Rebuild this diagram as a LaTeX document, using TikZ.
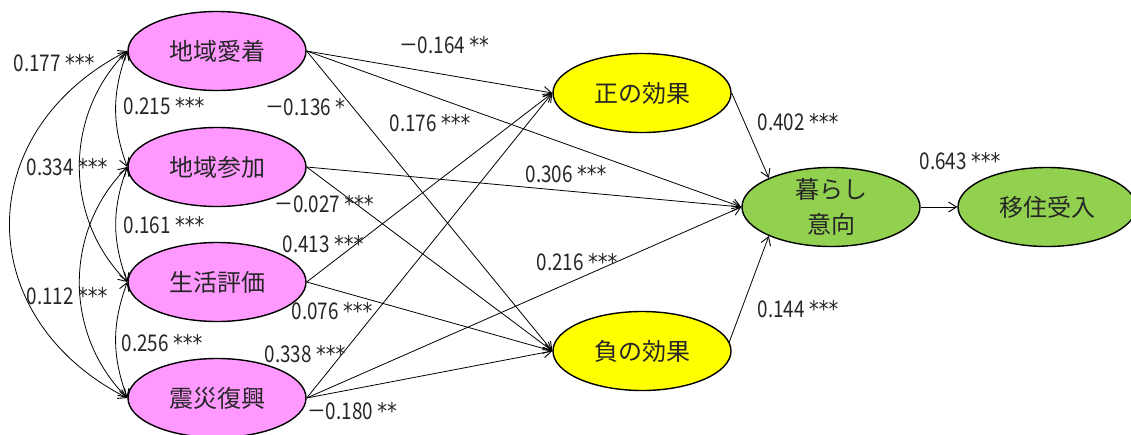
\documentclass[tikz,border=0pt]{standalone}
\usepackage{fontspec}
\usetikzlibrary{arrows.meta,shapes.geometric}
\newfontfamily\jpfont{Noto Sans CJK JP}
\newfontfamily\numfont[FakeStretch=0.82]{Noto Sans CJK JP}
\newfontfamily\starfont[FakeStretch=0.85]{DejaVu Sans}
\newcommand{\stx}[1]{{\starfont #1}}
\definecolor{pinkc}{HTML}{FF99FF}
\definecolor{yellowc}{HTML}{FFFF00}
\definecolor{greenc}{HTML}{92D050}
\definecolor{txt}{HTML}{262626}
\begin{document}
\begin{tikzpicture}[x=1pt,y=1pt,
  ell/.style={ellipse,draw=black,line width=1.4pt,minimum width=178pt,minimum height=79pt,inner sep=0pt,
    font=\jpfont\fontsize{24}{34}\selectfont,text=txt},
  arr/.style={line width=0.8pt,-{Straight Barb[length=8pt,width=10pt,line width=0.9pt]}},
  cov/.style={line width=0.8pt,{Straight Barb[length=8pt,width=10pt,line width=0.9pt]}-{Straight Barb[length=8pt,width=10pt,line width=0.9pt]}},
  lab/.style={font=\numfont\fontsize{23}{26}\selectfont,text=txt,inner sep=0pt}]
\useasboundingbox (0,0) rectangle (1131,-434);
% exogenous
\node[ell,fill=pinkc] (aichaku) at (217,-51) {地域愛着};
\node[ell,fill=pinkc] (sanka) at (217,-167) {地域参加};
\node[ell,fill=pinkc] (seikatsu) at (217,-282) {生活評価};
\node[ell,fill=pinkc] (shinsai) at (217,-398) {震災復興};
% mediators
\node[ell,fill=yellowc] (sei) at (642,-93) {正の効果};
\node[ell,fill=yellowc] (fu) at (642,-351) {負の効果};
% outcomes
\node[ell,fill=greenc,label={[font=\jpfont\fontsize{24}{35}\selectfont,text=txt,align=center,name=kurashitext]center:暮らし\\意向}] (kurashi) at (831,-207) {};
\node[ell,fill=greenc] (iju) at (1047,-207) {移住受入};
% paths
\draw[arr] (aichaku.east) -- (sei.west);
\draw[arr] (aichaku.east) -- (fu.west);
\draw[arr] (aichaku.east) -- (kurashi.west);
\draw[arr] (sanka.east) -- (kurashi.west);
\draw[arr] (sanka.east) -- (fu.west);
\draw[arr] (seikatsu.east) -- (sei.west);
\draw[arr] (seikatsu.east) -- (fu.west);
\draw[arr] (shinsai.east) -- (sei.west);
\draw[arr] (shinsai.east) -- (fu.west);
\draw[arr] (shinsai.east) -- (kurashi.west);
\draw[arr] (sei.east) -- (kurashi.155);
\draw[arr] (fu.6) -- (kurashi.205);
\draw[arr] (kurashi.east) -- (iju.west);
% covariances
\draw[cov] (aichaku.west) to[out=250,in=110] (sanka.west);
\draw[cov] (sanka.west) to[out=250,in=110] (seikatsu.west);
\draw[cov] (seikatsu.west) to[out=250,in=110] (shinsai.west);
\draw[cov] (aichaku.west) to[out=225,in=135] (seikatsu.west);
\draw[cov] (sanka.west) to[out=225,in=135] (shinsai.west);
\draw[cov] (aichaku.west) to[out=207,in=153,looseness=1.3] (shinsai.west);
% labels
\node[lab] (l1) at (54,-63) {0.177 \stx{***}};
\node[lab] (l2) at (164,-106) {0.215 \stx{***}};
\node[lab] (l3) at (305,-107) {－0.136 \stx{*}};
\node[lab] (l4) at (67,-167) {0.334 \stx{***}};
\node[lab] (l5) at (324,-204) {－0.027 \stx{***}};
\node[lab] (l6) at (164,-225) {0.161 \stx{***}};
\node[lab] (l7) at (323,-244) {0.413 \stx{***}};
\node[lab] (l8) at (67,-296) {0.112 \stx{***}};
\node[lab] (l9) at (332,-311) {0.076 \stx{***}};
\node[lab] (l10) at (162,-343) {0.256 \stx{***}};
\node[lab] (l11) at (305,-354) {0.338 \stx{***}};
\node[lab] (l12) at (352,-411) {－0.180 \stx{**}};
\node[lab] (l13) at (444,-45) {－0.164 \stx{**}};
\node[lab] (l14) at (430,-123) {0.176 \stx{***}};
\node[lab] (l15) at (566,-174) {0.306 \stx{***}};
\node[lab] (l16) at (577,-262) {0.216 \stx{***}};
\node[lab] (l17) at (798,-122) {0.402 \stx{***}};
\node[lab] (l18) at (960,-161) {0.643 \stx{***}};
\node[lab] (l19) at (798,-309) {0.144 \stx{***}};
\end{tikzpicture}
\end{document}
